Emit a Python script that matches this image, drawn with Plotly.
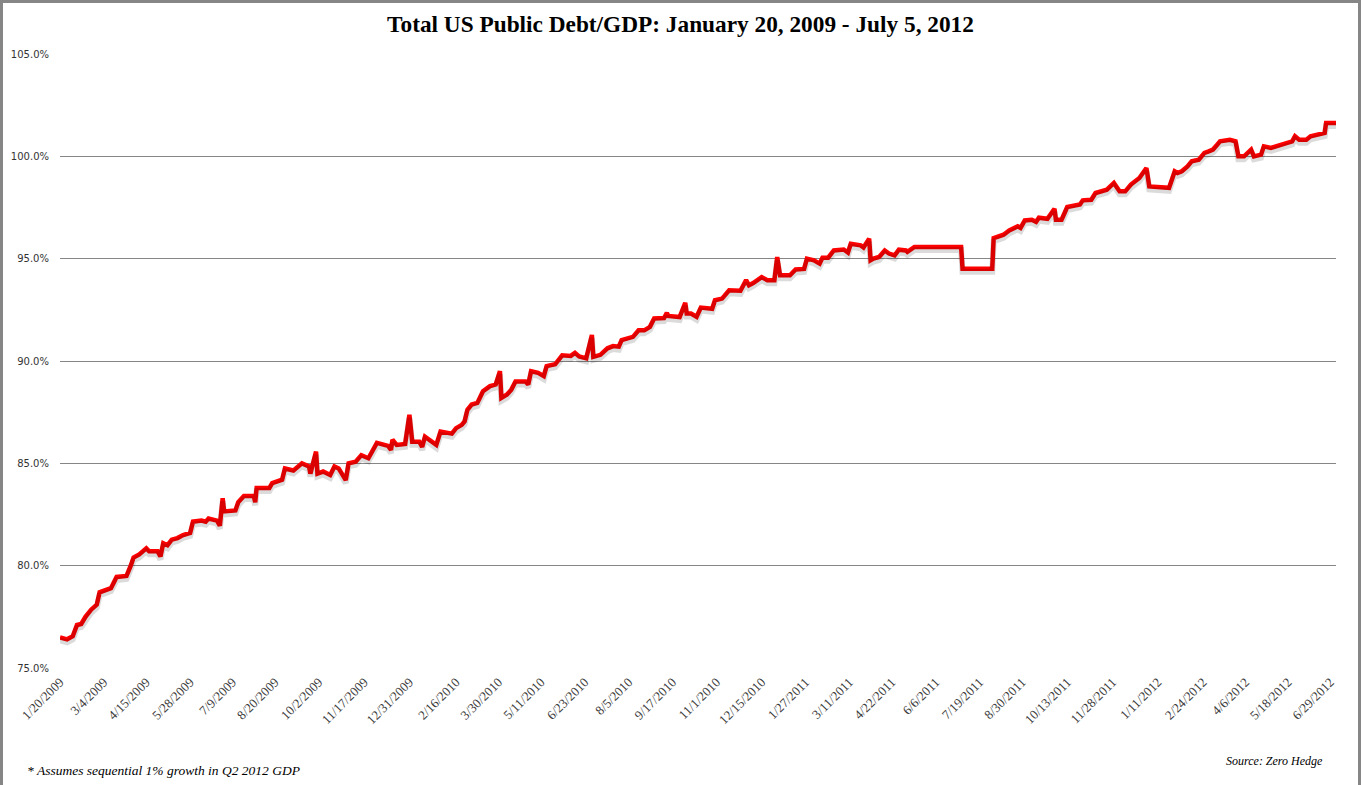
import pandas as pd
import plotly.graph_objects as go

# ---- data ----
dates_2009 = ["2009-01-20","2009-01-27","2009-02-02","2009-02-05","2009-02-10","2009-02-13","2009-02-19",
              "2009-02-25","2009-02-27","2009-03-05","2009-03-11","2009-03-17","2009-03-26","2009-03-31",
              "2009-04-02","2009-04-08","2009-04-15","2009-04-17","2009-04-27","2009-04-29","2009-05-01",
              "2009-05-06","2009-05-11","2009-05-15","2009-05-21","2009-05-28","2009-06-01","2009-06-09",
              "2009-06-12","2009-06-16","2009-06-24","2009-06-26","2009-06-30","2009-07-01","2009-07-13",
              "2009-07-15","2009-07-21","2009-07-30","2009-07-31","2009-08-03","2009-08-14","2009-08-18",
              "2009-08-27","2009-08-31","2009-09-08","2009-09-16","2009-09-23","2009-09-24","2009-09-30",
              "2009-10-01","2009-10-07","2009-10-14","2009-10-19","2009-10-22","2009-10-27","2009-10-29",
              "2009-11-02","2009-11-09","2009-11-13","2009-11-20","2009-11-30","2009-12-10","2009-12-14",
              "2009-12-15","2009-12-18","2009-12-28","2009-12-31"]
debt_2009 = [76.5,76.4,76.55,77.1,77.15,77.5,77.85,
             78.1,78.7,78.8,78.9,79.45,79.5,80.0,
             80.4,80.55,80.85,80.7,80.7,80.45,81.1,
             81.0,81.27,81.35,81.5,81.6,82.15,82.2,
             82.15,82.3,82.2,81.95,83.3,82.65,82.7,
             83.1,83.4,83.4,83.1,83.8,83.8,84.03,
             84.2,84.75,84.65,85.0,84.85,84.5,85.57,
             84.5,84.6,84.43,84.85,84.75,84.35,84.18,
             85.0,85.08,85.4,85.25,86.0,85.85,85.65,
             86.15,85.9,85.95,87.37]

dates_2010 = ["2010-01-04","2010-01-11","2010-01-13","2010-01-15","2010-01-21","2010-01-27","2010-02-01",
              "2010-02-11","2010-02-16","2010-02-22","2010-02-24","2010-02-26","2010-03-03","2010-03-09",
              "2010-03-15","2010-03-22","2010-03-26","2010-03-31","2010-04-01","2010-04-07","2010-04-12",
              "2010-04-15","2010-04-26","2010-04-28","2010-04-30","2010-05-07","2010-05-13","2010-05-17",
              "2010-05-25","2010-05-27","2010-06-01","2010-06-09","2010-06-14","2010-06-17","2010-06-24",
              "2010-06-30","2010-07-01","2010-07-08","2010-07-15","2010-07-21","2010-07-27","2010-07-29",
              "2010-08-05","2010-08-10","2010-08-16","2010-08-20","2010-08-26","2010-08-31","2010-09-09",
              "2010-09-13","2010-09-14","2010-09-24","2010-09-30","2010-10-01","2010-10-06","2010-10-12",
              "2010-10-15","2010-10-27","2010-10-29","2010-11-05","2010-11-12","2010-11-24","2010-11-30",
              "2010-12-02","2010-12-07","2010-12-10","2010-12-15","2010-12-21","2010-12-28","2010-12-30"]
debt_2010 = [86.06,86.06,85.8,86.3,86.1,85.9,86.55,
             86.45,86.72,86.88,87.05,87.62,87.87,87.95,
             88.52,88.77,88.85,89.5,88.2,88.36,88.6,
             89.0,89.0,88.85,89.5,89.42,89.26,89.75,
             89.84,90.0,90.28,90.25,90.4,90.22,90.13,
             91.27,90.2,90.3,90.62,90.73,90.7,91.02,
             91.1,91.18,91.5,91.5,91.67,92.08,92.1,
             92.35,92.2,92.15,92.84,92.32,92.32,92.16,
             92.61,92.55,92.97,93.05,93.46,93.43,93.95,
             93.7,93.81,93.95,94.1,93.95,93.95,95.08]

dates_2011 = ["2011-01-03","2011-01-12","2011-01-18","2011-01-26","2011-01-28","2011-02-04","2011-02-10",
              "2011-02-14","2011-02-18","2011-02-24","2011-03-07","2011-03-10","2011-03-14","2011-03-23",
              "2011-03-25","2011-03-31","2011-04-01","2011-04-05","2011-04-11","2011-04-15","2011-04-20",
              "2011-04-26","2011-04-29","2011-05-06","2011-05-09","2011-05-16","2011-06-30","2011-07-01",
              "2011-08-01","2011-08-02","2011-08-08","2011-08-11","2011-08-17","2011-08-22","2011-08-25",
              "2011-08-29","2011-09-01","2011-09-08","2011-09-13","2011-09-15","2011-09-23","2011-09-30",
              "2011-10-03","2011-10-07","2011-10-11","2011-10-13","2011-10-26","2011-10-28","2011-11-07",
              "2011-11-10","2011-11-22","2011-11-29","2011-12-05","2011-12-09","2011-12-15","2011-12-21",
              "2011-12-23","2011-12-30"]
debt_2011 = [94.19,94.19,94.47,94.5,95.0,94.92,94.76,
             95.05,95.05,95.4,95.45,95.3,95.73,95.65,
             95.55,95.98,94.92,95.0,95.08,95.4,95.25,
             95.16,95.44,95.4,95.33,95.57,95.57,94.51,
             94.51,96.0,96.09,96.17,96.38,96.46,96.58,
             96.5,96.87,96.9,96.8,97.0,96.95,97.44,
             96.9,96.9,97.23,97.52,97.65,97.85,97.88,
             98.21,98.37,98.7,98.29,98.29,98.62,98.86,
             98.94,99.43]

dates_2012 = ["2012-01-03","2012-01-23","2012-01-27","2012-01-31","2012-02-03","2012-02-09","2012-02-14",
              "2012-02-21","2012-02-27","2012-03-01","2012-03-06","2012-03-09","2012-03-13","2012-03-22",
              "2012-03-28","2012-03-30","2012-04-05","2012-04-12","2012-04-16","2012-04-23","2012-04-25",
              "2012-05-02","2012-05-10","2012-05-17","2012-05-23","2012-05-25","2012-05-30","2012-06-06",
              "2012-06-11","2012-06-25","2012-06-26","2012-07-05"]
debt_2012 = [98.53,98.46,99.27,99.19,99.27,99.51,99.76,
             99.84,100.17,100.24,100.33,100.57,100.73,100.81,
             100.73,100.0,100.0,100.33,100.0,100.08,100.49,
             100.41,100.57,100.65,100.73,100.98,100.81,100.81,
             100.98,101.14,101.63,101.63]

tick_labels = ["1/20/2009","3/4/2009","4/15/2009","5/28/2009","7/9/2009","8/20/2009","10/2/2009",
               "11/17/2009","12/31/2009","2/16/2010","3/30/2010","5/11/2010","6/23/2010","8/5/2010",
               "9/17/2010","11/1/2010","12/15/2010","1/27/2011","3/11/2011","4/22/2011","6/6/2011",
               "7/19/2011","8/30/2011","10/13/2011","11/28/2011","1/11/2012","2/24/2012","4/6/2012",
               "5/18/2012","6/29/2012"]
y_ticks = [75, 80, 85, 90, 95, 100, 105]

title_text = "Total US Public Debt/GDP: January 20, 2009 - July 5, 2012"
footnote_text = "* Assumes sequential 1% growth in Q2 2012 GDP"
source_text = "Source: Zero Hedge"

# ---- build ----
dates = pd.to_datetime(dates_2009 + dates_2010 + dates_2011 + dates_2012)
debt = debt_2009 + debt_2010 + debt_2011 + debt_2012
tick_vals = pd.to_datetime(tick_labels, format="%m/%d/%Y")

W, H = 1361, 785
ML, MR, MT, MB = 60, 25, 54, 117
PW, PH = W - ML - MR, H - MT - MB


def px_x(p):
    return (p - ML) / PW


def px_y(p):
    return (H - MB - p) / PH


fig = go.Figure()
# soft drop shadow (same data, on an overlaid axis nudged a few pixels)
fig.add_trace(go.Scatter(x=dates, y=debt, mode="lines", yaxis="y2",
                         line=dict(color="rgba(0,0,0,0.14)", width=6),
                         hoverinfo="skip", showlegend=False))
fig.add_trace(go.Scatter(x=dates, y=debt, mode="lines",
                         line=dict(color="#FF0000", width=4.5),
                         name="Debt/GDP", showlegend=False))

shift = 3 * 30 / PH
fig.update_layout(
    width=W, height=H,
    margin=dict(l=ML, r=MR, t=MT, b=MB, pad=0),
    paper_bgcolor="white", plot_bgcolor="white",
    title=dict(text=title_text, x=0.5, xref="container", xanchor="center",
               y=1 - 24 / H, yref="container", yanchor="middle",
               font=dict(family="Liberation Serif", size=23.3, color="black", weight="bold")),
    xaxis=dict(type="date", range=[dates[0], dates[-1]],
               rangebreaks=[dict(bounds=["sat", "mon"])],
               tickvals=tick_vals, ticktext=tick_labels, tickangle=-45,
               tickfont=dict(family="Liberation Serif", size=13, color="#3a3a3a"),
               ticklabelstandoff=3,
               showgrid=False, zeroline=False, showline=False, ticks=""),
    yaxis=dict(range=[75, 105], tickvals=y_ticks,
               ticktext=[f"{v:.1f}%" for v in y_ticks],
               tickfont=dict(family="DejaVu Sans", size=10, color="#333333"),
               ticklabelstandoff=10,
               showgrid=True, gridcolor="#868686", gridwidth=1,
               zeroline=False, showline=False, ticks=""),
    yaxis2=dict(range=[75 + shift, 105 + shift], overlaying="y", visible=False),
    showlegend=False,
)

fig.add_annotation(text=footnote_text, xref="paper", yref="paper",
                   x=px_x(25), y=px_y(770), xanchor="left", yanchor="middle",
                   showarrow=False,
                   font=dict(family="Liberation Serif", size=13.5, color="black", style="italic"))
fig.add_annotation(text=source_text, xref="paper", yref="paper",
                   x=px_x(1325), y=px_y(761), xanchor="right", yanchor="middle",
                   showarrow=False,
                   font=dict(family="Liberation Serif", size=12, color="black", style="italic"))

# outer chart frame
fig.add_shape(type="rect", xref="paper", yref="paper",
              x0=px_x(1.5), x1=px_x(1359.5), y0=px_y(1.5), y1=px_y(H + 20),
              line=dict(color="#868686", width=3), fillcolor="rgba(0,0,0,0)", layer="above")

fig.write_html("out.html", config={"displayModeBar": False},
               post_script="document.body.style.margin='0';")
